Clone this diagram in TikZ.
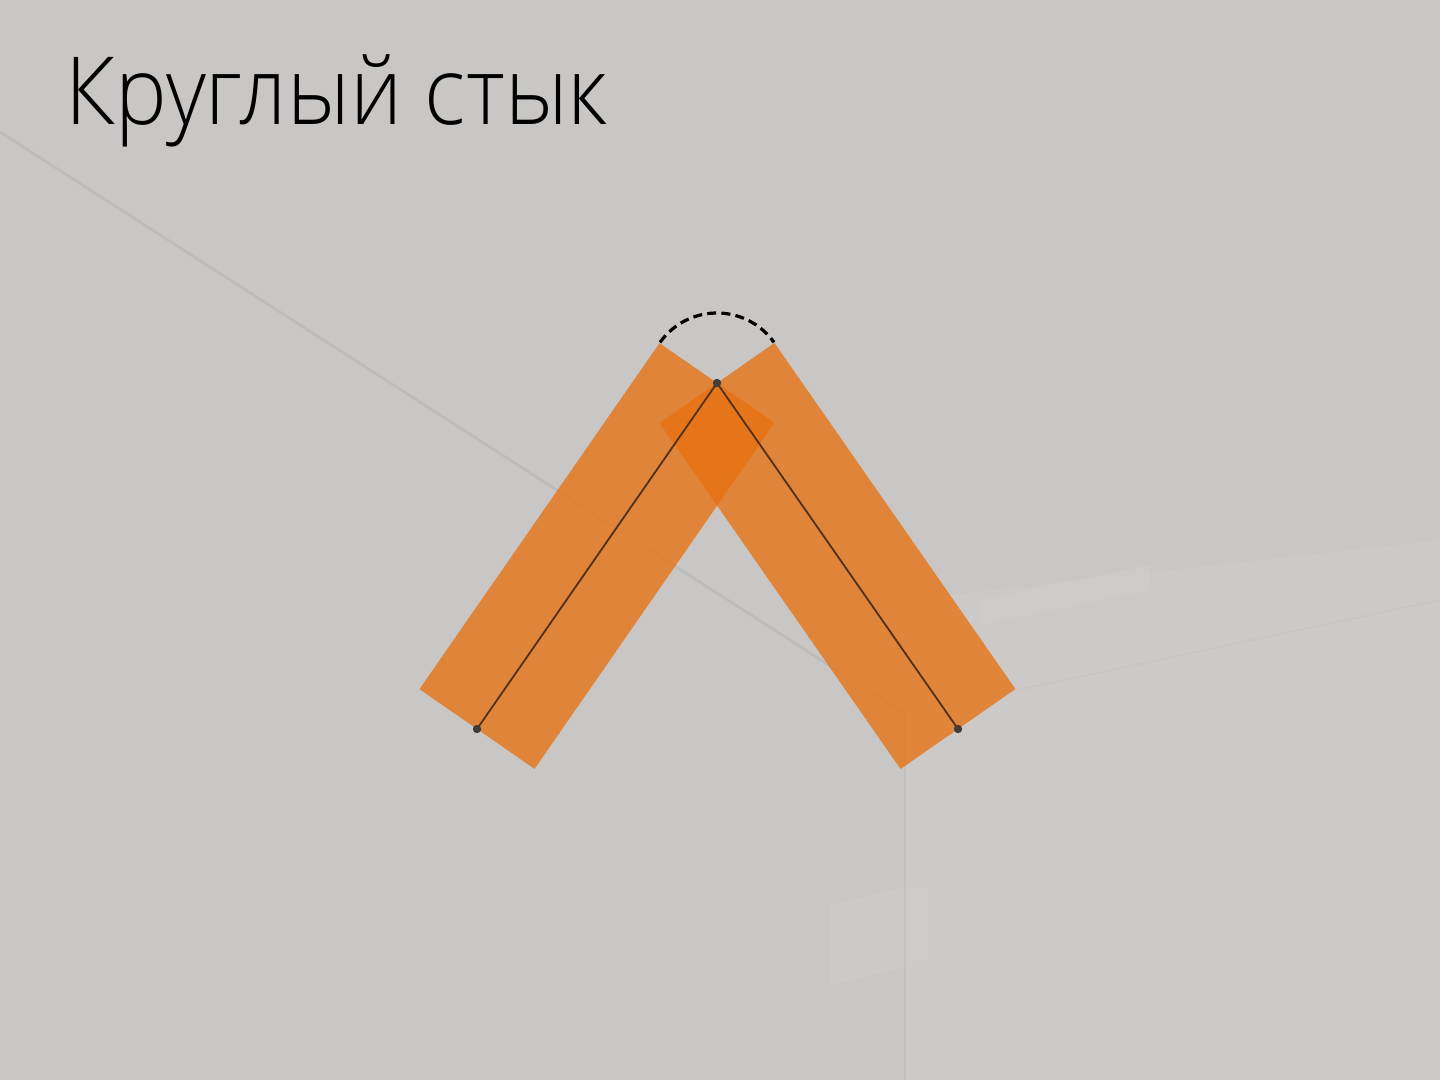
\documentclass[tikz,border=0pt]{standalone}
\usepackage{fontspec}
\setmainfont{Open Sans Light}
\definecolor{bg}{RGB}{200,199,197}
\definecolor{bglight}{RGB}{207,205,202}
\definecolor{bgline}{RGB}{180,180,178}
\definecolor{barorange}{RGB}{232,112,14}
\definecolor{axis}{RGB}{80,50,25}
\definecolor{dotc}{RGB}{65,60,58}
\tikzset{
  bar/.style={draw=barorange, draw opacity=0.76, line width=70pt, line cap=butt},
  axisline/.style={draw=axis, line width=0.9pt},
  enddot/.style={circle, fill=dotc, inner sep=0pt, minimum size=4.2pt},
  joinarc/.style={draw=black, line width=1.6pt, dash pattern=on 4.5pt off 2.6pt},
  title/.style={font=\fontsize{47}{56}\selectfont, text=black, inner sep=0pt, anchor=base west}
}
\begin{document}
\begin{tikzpicture}[x=0.5pt,y=-0.5pt]
  % background
  \fill[bg] (0,0) rectangle (1440,1080);
  \useasboundingbox (0,0) rectangle (1440,1080);
  \fill[bglight, opacity=0.6] (905,600) -- (1440,540) -- (1440,1080) -- (905,1080) -- cycle;
  \fill[bglight, opacity=0.7] (980,600) -- (1150,565) -- (1150,590) -- (980,625) -- cycle;
  \fill[bglight, opacity=0.5] (830,905) -- (930,880) -- (930,960) -- (830,985) -- cycle;
  \draw[bgline, line width=1.3pt, opacity=0.55] (0,132) -- (905,714);
  \draw[bgline, line width=0.8pt, opacity=0.35] (905,714) -- (905,1080);
  \draw[bgline, line width=0.6pt, opacity=0.25] (905,714) -- (1440,600);

  % title
  \node[title] (ttl) at (65,125) {\scalebox{0.925}[1]{Круглый стык}};

  % points
  \coordinate (apex) at (717,383);
  \coordinate (lend) at (477,729);
  \coordinate (rend) at (958,729);

  % bars
  \draw[bar] (lend) -- (apex);
  \draw[bar] (rend) -- (apex);

  % round join indicator
  \draw[joinarc] ([shift={(215.5:70)}]apex) arc[start angle=215.5, end angle=324.5, radius=70];

  % axis lines
  \draw[axisline] (lend) -- (apex) -- (rend);
  \node[enddot] (dl) at (lend) {};
  \node[enddot] (dr) at (rend) {};
  \node[enddot] (da) at (apex) {};
\end{tikzpicture}
\end{document}
